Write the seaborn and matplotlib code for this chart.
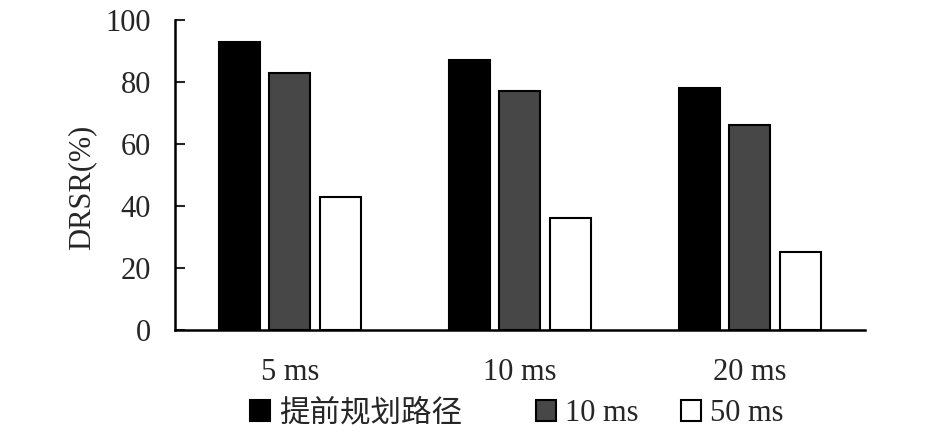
import matplotlib
matplotlib.use("Agg")
import matplotlib.pyplot as plt
import seaborn as sns
import pandas as pd

categories = ["5 ms", "10 ms", "20 ms"]
series_names = ["提前规划路径", "10 ms", "50 ms"]
s_plan = [93, 87, 78]
s_10 = [83, 77, 66]
s_50 = [43, 36, 25]
yticks = [0, 20, 40, 60, 80, 100]

rows = []
for name, vals in zip(series_names, [s_plan, s_10, s_50]):
    for c, v in zip(categories, vals):
        rows.append({"cat": c, "series": name, "val": v})
df = pd.DataFrame(rows)

sns.set_theme(style="white")
plt.rcParams['font.family'] = ['Liberation Serif', 'Noto Sans CJK SC']
plt.rcParams['axes.unicode_minus'] = False

FS = 22
fig = plt.figure(figsize=(9.45, 4.37), dpi=100)
ax = fig.add_axes([0.185, 0.245, 0.73, 0.709])

palette = {"提前规划路径": "#000000", "10 ms": "#474747", "50 ms": "#ffffff"}
sns.barplot(data=df, x="cat", y="val", hue="series", order=categories,
            hue_order=series_names, palette=palette, width=0.66, gap=0.19,
            edgecolor="black", linewidth=1.5, saturation=1, ax=ax, legend=True)

ax.set_ylim(0, 100)
ax.set_yticks(yticks)
ax.set_xlim(-0.5, 2.5)
ax.set_xlabel("")
ax.set_ylabel("DRSR(%)", fontsize=FS)
ax.yaxis.set_label_coords(-0.114, 0.46)
ax.tick_params(axis='y', direction='in', length=7, width=1.5, labelsize=FS, pad=17, left=True)
ax.tick_params(axis='x', length=0, labelsize=FS, pad=20)
for sp in ["top", "right"]:
    ax.spines[sp].set_visible(False)
for sp in ["left", "bottom"]:
    ax.spines[sp].set_color("black")
    ax.spines[sp].set_linewidth(1.8)

handles, labels = ax.get_legend_handles_labels()
ax.get_legend().remove()
xs = [0.265, 0.567, 0.721]
for h, l, x in zip(handles, labels, xs):
    lg = fig.legend([h], [l], loc="center left", bbox_to_anchor=(x, 0.053),
                    bbox_transform=fig.transFigure, frameon=False, fontsize=FS,
                    handlelength=0.65, handleheight=0.65, handletextpad=0.3,
                    borderpad=0, borderaxespad=0)
fig.savefig("out.png", dpi=100)
